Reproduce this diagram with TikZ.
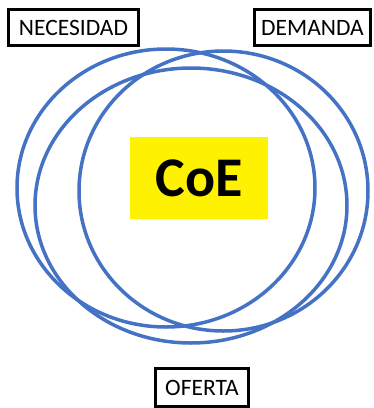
\documentclass[tikz,border=0pt]{standalone}
\usepackage{fontspec}
\setmainfont{Carlito}
\usetikzlibrary{shapes.geometric}
\definecolor{ringblue}{RGB}{68,114,196}
\tikzset{
  ring/.style={ellipse, draw=ringblue, line width=3.5pt, inner sep=0pt, fill=none},
  labelbox/.style={rectangle, draw=black, line width=3.5pt, fill=white, inner sep=0pt,
    minimum height=36pt, font=\fontsize{23.5}{26}\selectfont, text=black},
  coebox/.style={rectangle, fill=yellow, inner sep=0pt, minimum width=138pt, minimum height=82pt,
    font=\fontsize{56}{60}\selectfont\bfseries, text=black}
}
\begin{document}
\begin{tikzpicture}[x=1pt,y=-1pt]
\useasboundingbox (0,0) rectangle (374,408);
\node[ring, minimum width=298pt, minimum height=278pt] (nec) at (166,188) {};
\node[ring, minimum width=289pt, minimum height=280pt] (dem) at (223.5,191) {};
\node[ring, minimum width=312pt, minimum height=275pt] (ofe) at (191,205.5) {};
\node[coebox] (coe) at (199,178) {CoE};
\node[labelbox, minimum width=130pt] (lnec) at (73.5,27.5) {NECESIDAD};
\node[labelbox, minimum width=116pt] (ldem) at (312.5,27.5) {DEMANDA};
\node[labelbox, minimum width=93pt, minimum height=38pt] (lofe) at (202,387.5) {OFERTA};
\end{tikzpicture}
\end{document}
